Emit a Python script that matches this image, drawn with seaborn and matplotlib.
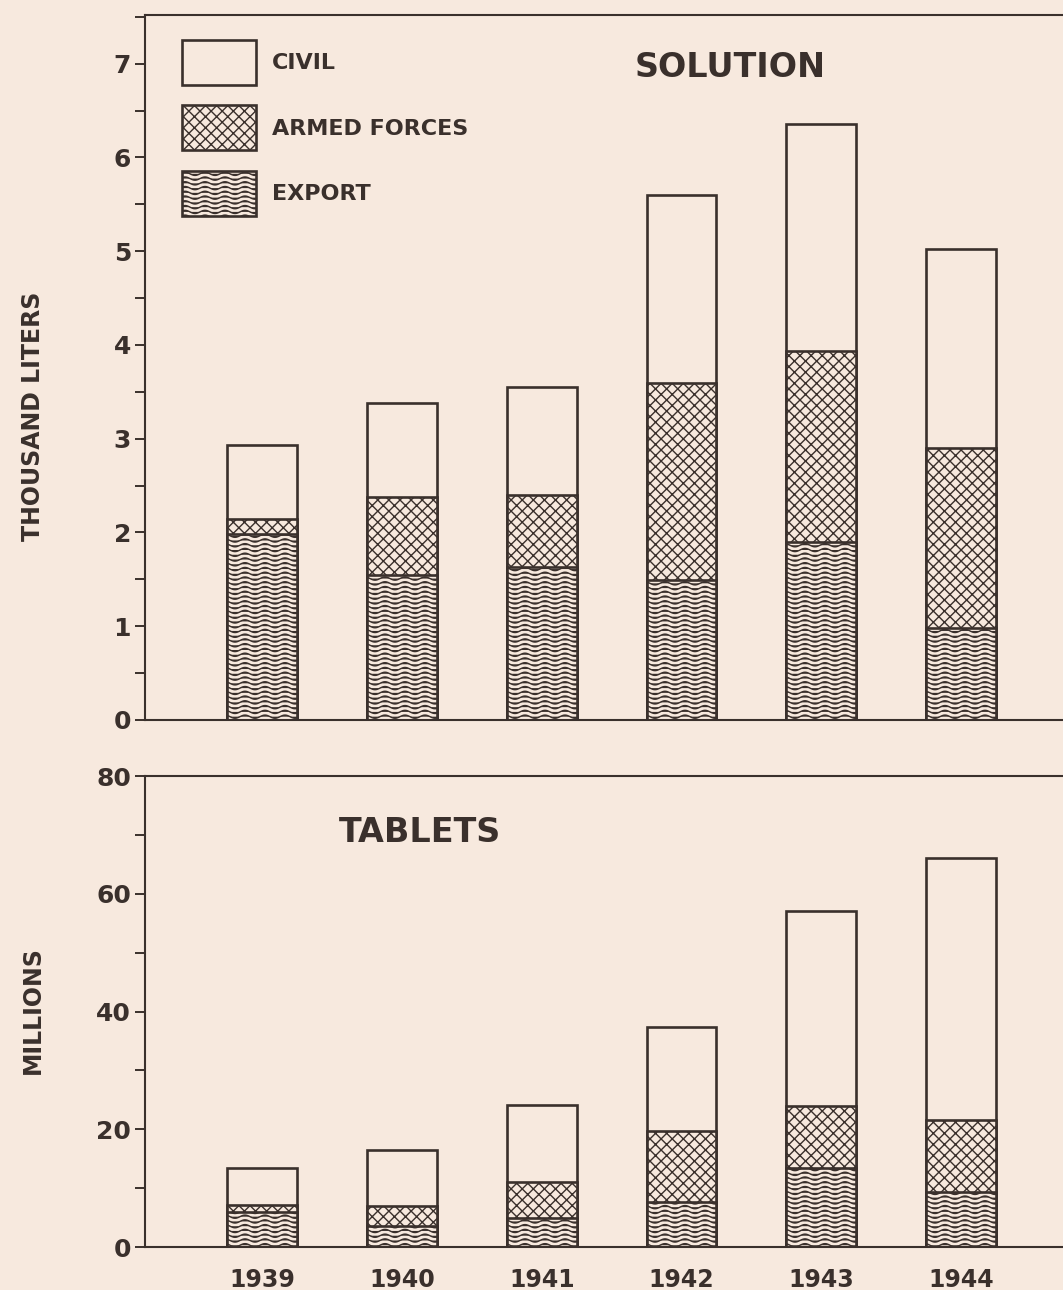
import warnings
import numpy as np
import pandas as pd
import matplotlib
matplotlib.use("Agg")
import matplotlib.pyplot as plt
from matplotlib import hatch as mhatch
from matplotlib.path import Path
from matplotlib.patches import Patch
from matplotlib.ticker import MultipleLocator
import seaborn as sns

warnings.filterwarnings("ignore")

years = ["1939", "1940", "1941", "1942", "1943", "1944"]

# Solution, thousand liters
solution_export = [1.98, 1.55, 1.63, 1.49, 1.90, 0.98]
solution_armed = [0.16, 0.83, 0.77, 2.10, 2.04, 1.92]
solution_civil = [0.79, 1.00, 1.15, 2.01, 2.42, 2.12]

# Tablets, millions
tablets_export = [6.0, 3.6, 5.0, 7.7, 13.5, 9.4]
tablets_armed = [1.1, 3.3, 6.1, 12.0, 10.5, 12.2]
tablets_civil = [6.3, 9.5, 13.1, 17.6, 33.0, 44.4]

series_labels = ["CIVIL", "ARMED FORCES", "EXPORT"]

PAPER = "#f7e9de"
INK = "#3a302c"


class WavyHatch(mhatch.HatchPatternBase):
    """Horizontal hatch drawn as sine waves instead of straight lines."""

    def __init__(self, hatch, density):
        self.num_lines = int((hatch.count("-") + hatch.count("+")) * density * 0.875)
        self.num_pts = 81
        self.num_vertices = self.num_lines * self.num_pts

    def set_vertices_and_codes(self, vertices, codes):
        steps, stepsize = np.linspace(0.0, 1.0, self.num_lines, False, retstep=True)
        steps += stepsize / 2.0
        xs = np.linspace(0.0, 1.0, self.num_pts)
        wave = 0.34 * stepsize * np.sin(2 * np.pi * 5 * xs)
        for i, s in enumerate(steps):
            sl = slice(i * self.num_pts, (i + 1) * self.num_pts)
            vertices[sl, 0] = xs
            vertices[sl, 1] = s + wave
            codes[sl] = Path.LINETO
            codes[i * self.num_pts] = Path.MOVETO


mhatch._hatch_types = [WavyHatch if t is mhatch.HorizontalHatch else t
                       for t in mhatch._hatch_types]

sns.set_theme(style="ticks")
plt.rcParams.update({
    "font.family": ["DejaVu Sans"],
    "font.weight": "bold",
    "hatch.linewidth": 1.0,
    "axes.edgecolor": INK,
    "axes.linewidth": 1.5,
    "text.color": INK,
    "axes.labelcolor": INK,
    "xtick.color": INK,
    "ytick.color": INK,
})

HATCHES = [None, "xxx", "----"]


def stacked(ax, export, armed, civil):
    df = pd.DataFrame({"year": years, "export": export,
                       "armed": armed, "civil": civil})
    df["armed_top"] = df["export"] + df["armed"]
    df["total"] = df["armed_top"] + df["civil"]
    for col, hatch in zip(["total", "armed_top", "export"], HATCHES):
        sns.barplot(data=df, x="year", y=col, order=years, color=PAPER,
                    saturation=1, edgecolor=INK, linewidth=1.9, hatch=hatch,
                    width=0.5, errorbar=None, ax=ax)
    ax.set_xlim(-0.84, 5.73)
    ax.set_facecolor(PAPER)
    ax.spines["right"].set_visible(False)
    ax.set_xlabel("")


fig = plt.figure(figsize=(10.63, 12.90), dpi=100, facecolor=PAPER)
ax1 = fig.add_axes([0.1364, 0.4419, 0.8636, 0.5465])
ax2 = fig.add_axes([0.1364, 0.0333, 0.8636, 0.3651])

stacked(ax1, solution_export, solution_armed, solution_civil)
stacked(ax2, tablets_export, tablets_armed, tablets_civil)

ax1.set_ylim(0, 7.52)
ax1.yaxis.set_major_locator(MultipleLocator(1))
ax1.yaxis.set_minor_locator(MultipleLocator(0.5))
ax2.set_ylim(0, 80)
ax2.yaxis.set_major_locator(MultipleLocator(20))
ax2.yaxis.set_minor_locator(MultipleLocator(10))

for ax in (ax1, ax2):
    ax.tick_params(axis="y", which="both", length=7, width=1.4,
                   labelsize=18, pad=3)
    ax.tick_params(axis="x", length=0, labelsize=17, pad=15)

ax1.tick_params(axis="x", labelbottom=False)

ax1.set_ylabel("THOUSAND LITERS", fontsize=17, fontweight="bold")
ax1.yaxis.set_label_coords(-0.109, 0.43)
ax2.set_ylabel("MILLIONS", fontsize=17, fontweight="bold")
ax2.yaxis.set_label_coords(-0.109, 0.503)

ax1.text(0.637, 0.925, "SOLUTION", transform=ax1.transAxes, fontsize=24,
         fontweight="bold", ha="center", va="center")
ax2.text(0.30, 0.881, "TABLETS", transform=ax2.transAxes, fontsize=24,
         fontweight="bold", ha="center", va="center")

handles = [Patch(facecolor=PAPER, edgecolor=INK, linewidth=1.9, hatch=h)
           for h in HATCHES]
ax1.legend(handles, series_labels, loc="upper left",
           bbox_to_anchor=(0.040, 0.9645), frameon=False, fontsize=16,
           handlelength=3.33, handleheight=2.74, labelspacing=0.92,
           handletextpad=0.72, borderpad=0, borderaxespad=0)

fig.savefig("out.png", dpi=100, facecolor=PAPER)
